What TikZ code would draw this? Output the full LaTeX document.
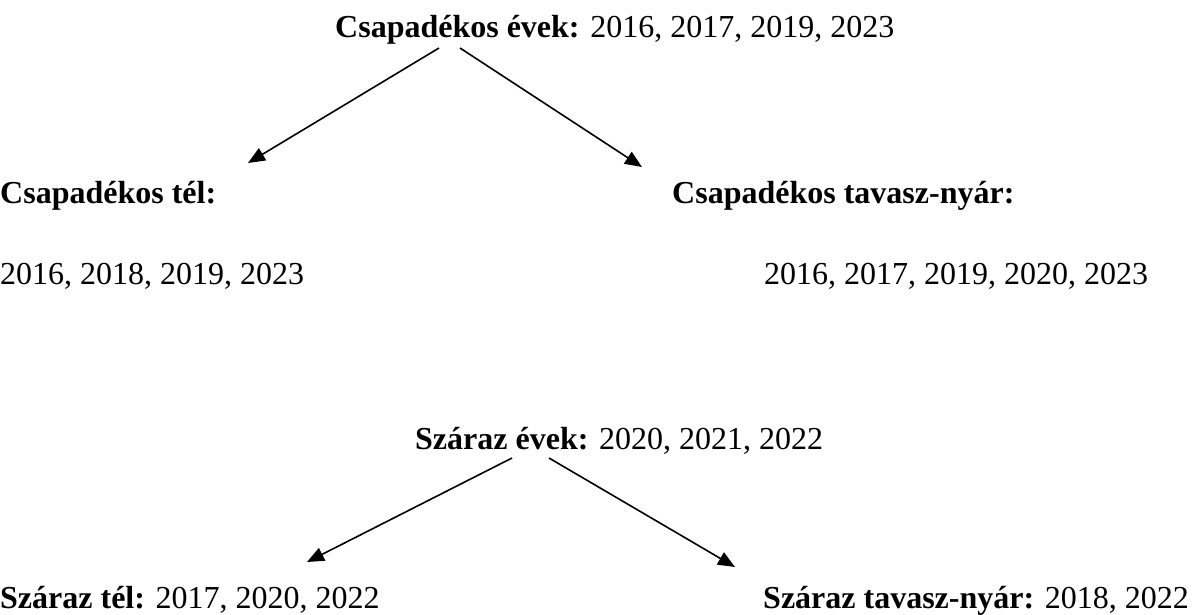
\documentclass[tikz,border=0pt]{standalone}
\usepackage{fontspec}
\setmainfont{Liberation Serif}
\usetikzlibrary{arrows.meta}
\begin{document}
\begin{tikzpicture}[x=1pt,y=-1pt,
  txt/.style={anchor=base west,inner sep=0pt,font=\fontsize{32}{38}\selectfont},
  arr/.style={-{Triangle[length=17pt,width=14pt]},line width=1.6pt}]
\useasboundingbox (0,0) rectangle (1197,614);
\node[txt] (top) at (335,37) {\textbf{Csapadékos évek:} 2016, 2017, 2019, 2023};
\node[txt] (wt) at (0,203) {\textbf{Csapadékos tél:}};
\node[txt] (ws) at (672,203) {\textbf{Csapadékos tavasz-nyár:}};
\node[txt] (wty) at (0,284) {2016, 2018, 2019, 2023};
\node[txt] (wsy) at (764,284) {2016, 2017, 2019, 2020, 2023};
\node[txt] (dry) at (415,449) {\textbf{Száraz évek:} 2020, 2021, 2022};
\node[txt] (dt) at (0,608) {\textbf{Száraz tél:} 2017, 2020, 2022};
\node[txt] (ds) at (763,608) {\textbf{Száraz tavasz-nyár:} 2018, 2022};
\coordinate (a1s) at (439,48);
\coordinate (a1e) at (248,163);
\coordinate (a2s) at (460,48);
\coordinate (a2e) at (642,167);
\coordinate (b1s) at (512,458);
\coordinate (b1e) at (307,562);
\coordinate (b2s) at (549,458);
\coordinate (b2e) at (735,567);
\draw[arr] (a1s) -- (a1e);
\draw[arr] (a2s) -- (a2e);
\draw[arr] (b1s) -- (b1e);
\draw[arr] (b2s) -- (b2e);
\end{tikzpicture}
\end{document}
